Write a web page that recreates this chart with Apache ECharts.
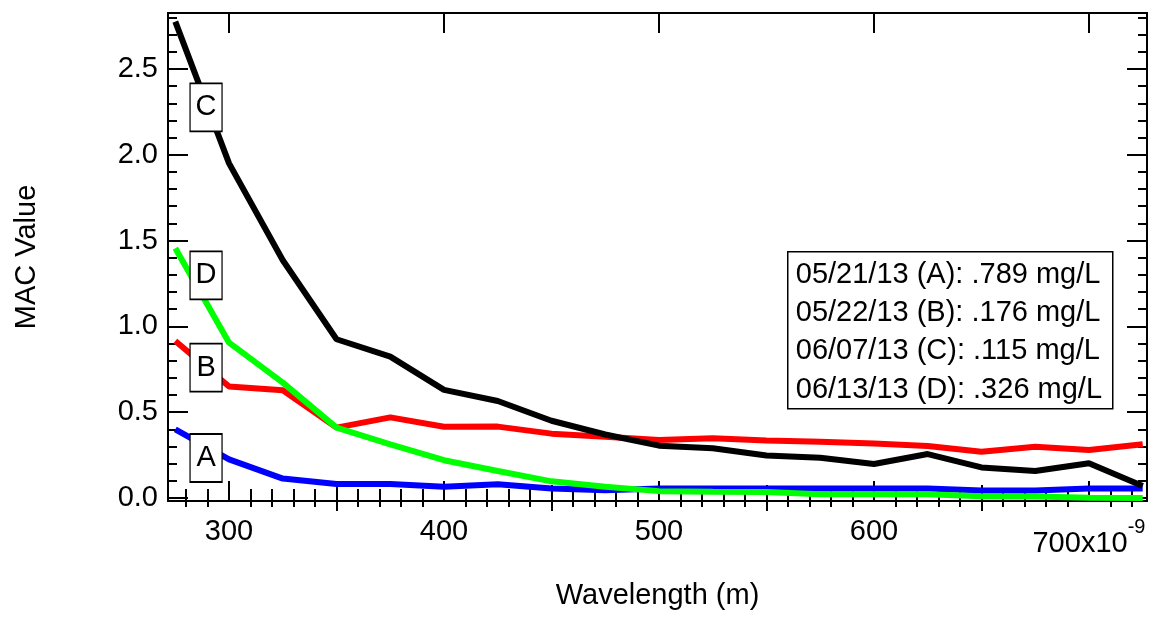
<!DOCTYPE html>
<html><head><meta charset="utf-8">
<script src="https://cdn.jsdelivr.net/npm/echarts@6/dist/echarts.min.js"></script>
<style>html,body{margin:0;padding:0;background:#fff}#c{width:1150px;height:617px}</style>
</head><body><div id="c"></div>
<script>
// ---- data (wavelength in nm, shown as x10^-9 m) ----
const wavelengths = [275,300,325,350,375,400,425,450,475,500,525,550,575,600,625,650,675,700,725];
const seriesA = [0.400,0.225,0.113,0.082,0.082,0.066,0.080,0.055,0.045,0.056,0.056,0.056,0.056,0.056,0.055,0.043,0.043,0.056,0.056];
const seriesB = [0.915,0.650,0.628,0.410,0.470,0.415,0.416,0.375,0.357,0.338,0.348,0.335,0.328,0.318,0.303,0.270,0.298,0.280,0.313];
const seriesC = [2.776,1.950,1.385,0.925,0.824,0.630,0.565,0.450,0.370,0.305,0.290,0.248,0.235,0.198,0.256,0.178,0.157,0.202,0.070];
const seriesD = [1.455,0.905,0.672,0.410,0.313,0.220,0.157,0.097,0.065,0.040,0.037,0.035,0.022,0.022,0.022,0.010,0.008,0.002,0.000];
const seriesNames = ['A','B','C','D'];
const seriesColors = ['#0000ff','#ff0000','#000000','#00ff00'];
const legendLines = ['05/21/13 (A): .789 mg/L','05/22/13 (B): .176 mg/L','06/07/13 (C): .115 mg/L','06/13/13 (D): .326 mg/L'];
// tag boxes (annotation labels on traces)
const tagLabels = ['A','B','C','D'];
const tagX = [289.3,289.3,289.3,289.3];
const tagY = [0.233,0.760,2.276,1.297];
// tick values
const xLabelTicks = [300,400,500,600,700];
const xMediumTicks = [350,450,550,650];
const xMinorTicks = [];
for (let v = 280; v <= 720; v += 10) { if (v % 50 !== 0) xMinorTicks.push(v); }
const yLabelTicks = [0,0.5,1.0,1.5,2.0,2.5];
const yMinorTicks = [];
for (let i = 1; i <= 28; i++) { if (i % 5 !== 0) yMinorTicks.push(+(i/10).toFixed(1)); }

const X_MIN = 271.6, X_MAX = 727, Y_MIN = -0.0175, Y_MAX = 2.826;
const FONT = '"Liberation Sans", Arial, sans-serif';
const FS = 29;

const chart = echarts.init(document.getElementById('c'), null, {renderer:'canvas'});

function xAx(pos, ticks, len, opts) {
  return Object.assign({
    type:'value', position:pos, min:X_MIN, max:X_MAX, gridIndex:0,
    axisLine:{show:false}, splitLine:{show:false},
    axisTick:{show:true, inside:true, length:len, customValues:ticks, lineStyle:{color:'#000', width:2}},
    axisLabel:{show:false}
  }, opts || {});
}
function yAx(pos, ticks, len, opts) {
  return Object.assign({
    type:'value', position:pos, min:Y_MIN, max:Y_MAX, gridIndex:0,
    axisLine:{show:false}, splitLine:{show:false},
    axisTick:{show:true, inside:true, length:len, customValues:ticks, lineStyle:{color:'#000', width:2}},
    axisLabel:{show:false}
  }, opts || {});
}

const lineData = [seriesA, seriesB, seriesC, seriesD];
const series = lineData.map((arr, i) => ({
  name: seriesNames[i], type:'line', xAxisIndex:0, yAxisIndex:0,
  data: wavelengths.map((w, j) => [w, arr[j]]),
  showSymbol:false, symbol:'none',
  lineStyle:{color:seriesColors[i], width:6},
  itemStyle:{color:seriesColors[i]},
  z: 2 + i, animation:false, silent:true
}));
series.push({
  type:'scatter', xAxisIndex:0, yAxisIndex:0, z:20, silent:true, animation:false,
  data: tagX.map((x, i) => [x, tagY[i], tagLabels[i]]),
  symbol:'rect', symbolSize:[32,48],
  itemStyle:{color:'#ffffff', borderColor:'#000', borderWidth:1.5, opacity:1},
  label:{show:true, position:'inside', formatter:p => p.data[2], color:'#000', fontSize:FS, fontFamily:FONT}
});

const option = {
  animation:false,
  backgroundColor:'#ffffff',
  grid:{left:168, right:3, top:13, bottom:116},
  xAxis:[
    xAx('bottom', xLabelTicks, 20, {
      axisLine:{show:true, onZero:false, lineStyle:{color:'#000', width:2}},
      axisLabel:{show:true, customValues:xLabelTicks, margin:16, color:'#000', fontFamily:FONT,
        formatter: v => v === 700 ? '{a|700x10}{b|-9}' : '{n|' + v + '}',
        rich:{
          n:{fontSize:FS, lineHeight:29, fontFamily:FONT, color:'#000'},
          a:{fontSize:FS, lineHeight:54, fontFamily:FONT, color:'#000'},
          b:{fontSize:20, lineHeight:20, fontFamily:FONT, color:'#000', verticalAlign:'top'}
        }},
      name:'Wavelength (m)', nameLocation:'middle', nameGap:80,
      nameTextStyle:{fontSize:FS, fontFamily:FONT, color:'#000'}
    }),
    xAx('bottom', xMediumTicks, 13),
    xAx('bottom', xMinorTicks, 9),
    xAx('top', xLabelTicks, 20, {axisLine:{show:true, onZero:false, lineStyle:{color:'#000', width:2}}}),
    xAx('top', xMediumTicks, 13),
    xAx('top', xMinorTicks, 9)
  ],
  yAxis:[
    yAx('left', yLabelTicks, 20, {
      axisLine:{show:true, onZero:false, lineStyle:{color:'#000', width:2}},
      axisLabel:{show:true, customValues:yLabelTicks, margin:10, color:'#000', fontSize:FS, fontFamily:FONT,
        formatter: v => v.toFixed(1)},
      name:'MAC Value', nameLocation:'middle', nameGap:127,
      nameTextStyle:{fontSize:FS, fontFamily:FONT, color:'#000'}
    }),
    yAx('left', yMinorTicks, 9),
    yAx('right', yLabelTicks, 20, {axisLine:{show:true, onZero:false, lineStyle:{color:'#000', width:2}}}),
    yAx('right', yMinorTicks, 9)
  ],
  series: series,
  graphic:[{
    type:'group', left:787, top:251, z:30,
    children:[
      {type:'rect', shape:{x:0, y:0, width:325, height:157}, style:{fill:'#fff', stroke:'#000', lineWidth:1.5}},
    ].concat(legendLines.map((t, i) => ({
      type:'text', x:8, y:23 + i*38.3,
      style:{text:t, fontSize:FS, fontFamily:FONT, fill:'#000', verticalAlign:'middle', align:'left'}
    })))
  }]
};
chart.setOption(option);
</script></body></html>
